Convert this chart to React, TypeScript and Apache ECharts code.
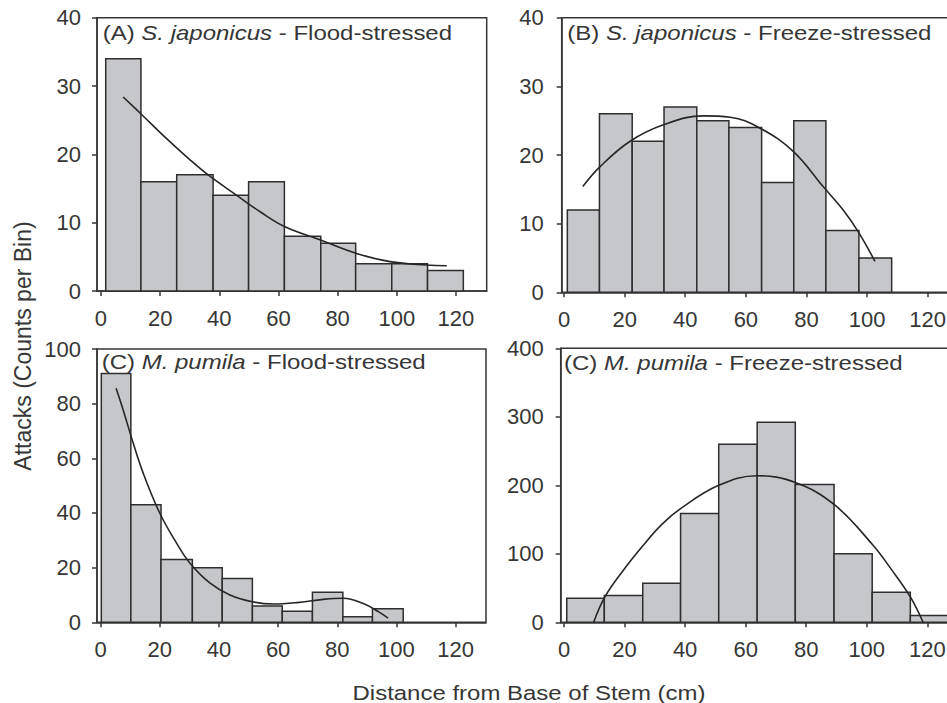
import React, { useEffect, useRef } from "react";
import * as echarts from "echarts";

// ---------- data ----------
const edgesA = [1.6, 13.5, 25.6, 37.9, 49.9, 62.0, 74.3, 86.1, 98.3, 110.4, 122.5];
const countsA = [34, 16, 17, 14, 16, 8, 7, 4, 4, 3];
const curveA = [
  [7.5, 28.4], [13.8, 25.8], [22.2, 22.3], [30.1, 19.2], [36.8, 16.8], [45.9, 14.0],
  [53.8, 11.6], [62.2, 9.4], [74.0, 7.5], [86.4, 5.5], [97.7, 4.3], [110.1, 3.8], [116.9, 3.7],
];

const edgesB = [1.1, 11.7, 22.5, 33.0, 43.8, 54.4, 65.2, 75.8, 86.4, 97.3, 108.1];
const countsB = [12, 26, 22, 27, 25, 24, 16, 25, 9, 5];
const curveB = [
  [6.2, 15.4], [11.9, 18.3], [21.8, 22.0], [32.8, 24.4], [46.0, 25.7], [54.8, 25.5],
  [64.7, 23.9], [75.7, 20.5], [85.5, 15.4], [92.1, 12.0], [97.1, 8.8], [102.6, 4.5],
];

const edgesC = [0.2, 10.2, 20.4, 31.0, 41.1, 51.3, 61.4, 71.6, 81.9, 91.9, 102.3];
const countsC = [91, 43, 23, 20, 16, 6, 4, 11, 2, 5];
const curveC = [
  [5.2, 85.6], [7.6, 77.7], [10.5, 67.3], [14.4, 54.5], [20.0, 39.9], [25.7, 28.9],
  [30.2, 21.6], [37.0, 14.3], [43.7, 10.0], [51.3, 7.5], [58.4, 6.7], [66.3, 7.2],
  [75.3, 8.4], [82.0, 8.8], [88.8, 6.9], [93.9, 3.9], [97.2, 1.5],
];

const edgesD = [0.9, 13.3, 26.0, 38.5, 51.1, 63.8, 76.4, 89.2, 101.8, 114.4, 127.0];
const countsD = [35, 39, 57, 159, 260, 292, 201, 100, 44, 10];
const curveD = [
  [9.8, 0], [13.5, 37], [19.6, 76], [25.9, 111], [32.3, 143], [38.5, 166], [51.1, 200],
  [63.8, 214], [76.4, 204], [89.2, 172], [101.8, 114], [108.0, 78], [114.4, 37], [118.6, 0],
];

const xTicks = [0, 20, 40, 60, 80, 100, 120];

const panelTitles = [
  "(A) {i|S. japonicus} - Flood-stressed",
  "(B) {i|S. japonicus} - Freeze-stressed",
  "(C) {i|M. pumila} - Flood-stressed",
  "(C) {i|M. pumila} - Freeze-stressed",
];
const yLabel = "Attacks (Counts per Bin)";
const xLabel = "Distance from Base of Stem (cm)";

// ---------- layout ----------
const FONT = "'Liberation Sans', Arial, Helvetica, sans-serif";
const INK = "#363636";
const FILL = "#c6c7cb";

const panels = [
  { edges: edgesA, counts: countsA, curve: curveA, grid: { left: 97, top: 17.7, width: 389.7, height: 273.3 }, xmin: -1.35, xmax: 130.4, ymax: 40, yint: 10, ymargin: 16, title: { x: 102.7, y: 33.7 } },
  { edges: edgesB, counts: countsB, curve: curveB, grid: { left: 561.7, top: 17.7, width: 411.5, height: 274.6 }, xmin: -0.76, xmax: 135, ymax: 40, yint: 10, ymargin: 18, title: { x: 567.3, y: 33.7 } },
  { edges: edgesC, counts: countsC, curve: curveC, grid: { left: 97, top: 349, width: 389, height: 273.3 }, xmin: -1.25, xmax: 130.3, ymax: 100, yint: 20, ymargin: 16, title: { x: 101.7, y: 362.5 } },
  { edges: edgesD, counts: countsD, curve: curveD, grid: { left: 560.7, top: 348.3, width: 412, height: 274 }, xmin: -1.1, xmax: 135, ymax: 400, yint: 100, ymargin: 17, title: { x: 564, y: 363.3 } },
];

export default function App() {
  const ref = useRef<HTMLDivElement>(null);
  useEffect(() => {
    if (!ref.current) return;
    const chart = echarts.init(ref.current, null, { renderer: "svg" });
    const grids = panels.map((p) => ({
      ...p.grid,
      show: true,
      borderColor: INK,
      borderWidth: 1.5,
      backgroundColor: "#ffffff",
      containLabel: false,
      outerBoundsMode: "none",
    }));
    const xAxes = panels.map((p, i) => ({
      type: "value",
      gridIndex: i,
      min: p.xmin,
      max: p.xmax,
      splitLine: { show: false },
      axisLine: { show: true, onZero: false, lineStyle: { color: INK, width: 1.5 } },
      axisTick: { show: true, inside: false, length: 5, lineStyle: { color: INK, width: 1.5 }, customValues: xTicks },
      axisLabel: { show: true, margin: 16, color: INK, fontSize: 22, fontFamily: FONT, customValues: xTicks },
    }));
    const yAxes = panels.map((p, i) => ({
      type: "value",
      gridIndex: i,
      min: 0,
      max: p.ymax,
      interval: p.yint,
      splitLine: { show: false },
      axisLine: { show: true, onZero: false, lineStyle: { color: INK, width: 1.5 } },
      axisTick: { show: true, inside: false, length: 5, lineStyle: { color: INK, width: 1.5 } },
      axisLabel: { show: true, margin: p.ymargin, color: INK, fontSize: 22, fontFamily: FONT },
    }));
    const series: any[] = [];
    panels.forEach((p, i) => {
      const bars = p.counts.map((c, k) => [p.edges[k], p.edges[k + 1], c]);
      series.push({
        type: "custom",
        xAxisIndex: i,
        yAxisIndex: i,
        data: bars,
        encode: { x: [0, 1], y: 2 },
        clip: false,
        renderItem: (_params: any, api: any) => {
          const a = api.coord([api.value(0), api.value(2)]);
          const b = api.coord([api.value(1), 0]);
          return {
            type: "rect",
            shape: { x: a[0], y: a[1], width: b[0] - a[0], height: b[1] - a[1] },
            style: { fill: FILL, stroke: "#2e2e2e", lineWidth: 1.5 },
          };
        },
        z: 2,
      });
      series.push({
        type: "line",
        xAxisIndex: i,
        yAxisIndex: i,
        data: p.curve,
        smooth: 0.4,
        showSymbol: false,
        symbol: "none",
        clip: false,
        lineStyle: { color: "#262626", width: 1.6 },
        z: 3,
      });
    });
    const graphic: any[] = panels.map((p, i) => ({
      type: "text",
      x: p.title.x,
      y: p.title.y,
      scaleX: 1.2,
      z: 10,
      style: {
        text: panelTitles[i],
        fill: INK,
        fontSize: 20,
        fontFamily: FONT,
        align: "left",
        verticalAlign: "middle",
        rich: { i: { fontStyle: "italic", fontSize: 20, fontFamily: FONT, fill: INK } },
      },
    }));
    graphic.push({
      type: "text",
      x: 23,
      y: 346,
      rotation: Math.PI / 2,
      style: { text: yLabel, fill: INK, fontSize: 23, fontFamily: FONT, align: "center", verticalAlign: "middle" },
    });
    graphic.push({
      type: "text",
      x: 529,
      y: 693,
      scaleX: 1.17,
      style: { text: xLabel, fill: INK, fontSize: 20.5, fontFamily: FONT, align: "center", verticalAlign: "middle" },
    });
    chart.setOption({
      animation: false,
      backgroundColor: "#ffffff",
      grid: grids,
      xAxis: xAxes,
      yAxis: yAxes,
      series,
      graphic,
    });
    return () => chart.dispose();
  }, []);
  return (
    <div
      ref={ref}
      style={{ position: "fixed", left: 0, top: 0, width: 947, height: 703, background: "#fff" }}
    />
  );
}
